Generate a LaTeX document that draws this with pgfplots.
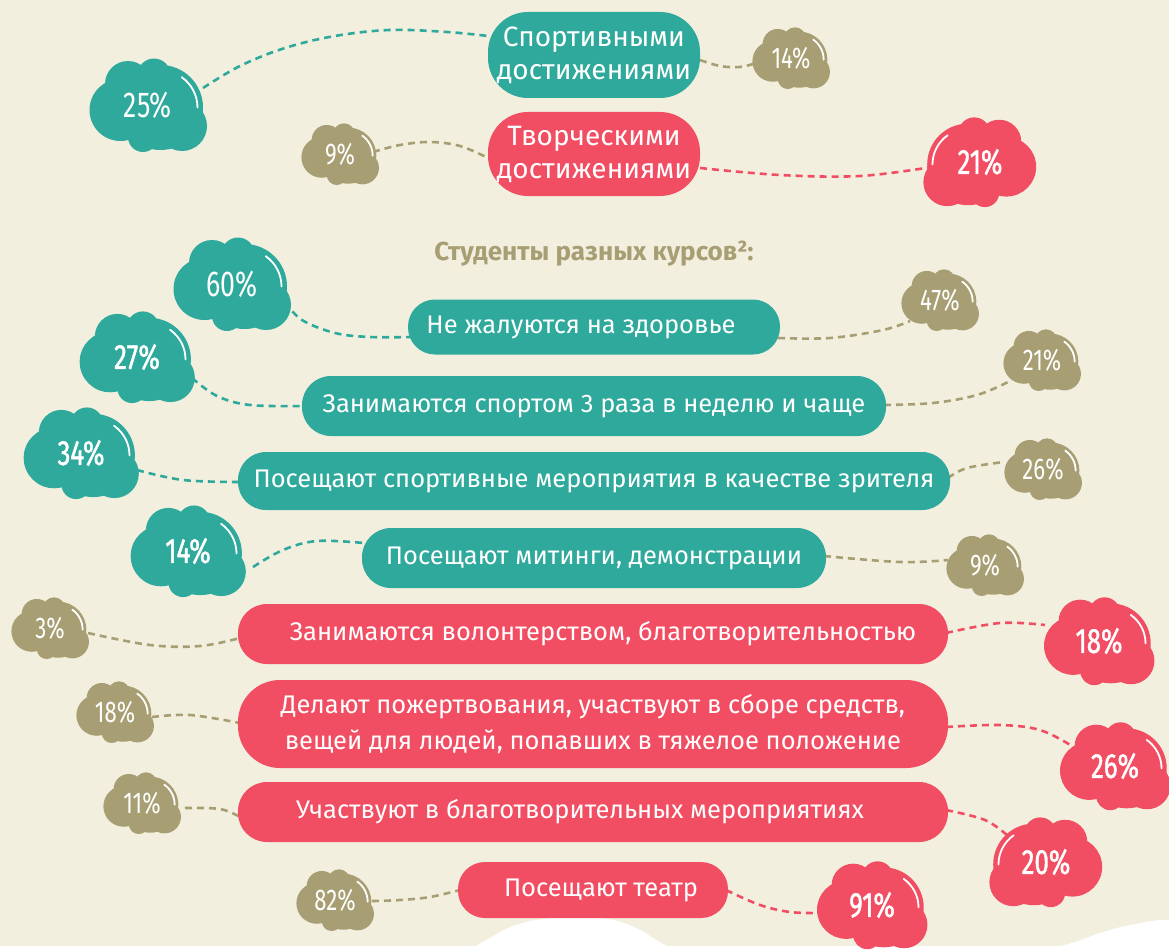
\documentclass[border=0pt]{standalone}
\usepackage{fontspec}
\setmainfont{Fira Sans}
\newfontfamily\pctfont[FakeStretch=0.74]{Fira Sans}
\newfontfamily\pctbold[FakeStretch=0.74,FakeBold=1.2]{Fira Sans}
\usepackage{pgfplots}
\pgfplotsset{compat=1.18}
\definecolor{tealc}{HTML}{2EA99B}
\definecolor{redc}{HTML}{F24E63}
\definecolor{olivec}{HTML}{A89E73}
\definecolor{bgc}{HTML}{F3EFDF}

% cloud-shaped plot mark; #1 = 1 (bumps left) or -1 (mirrored); #2,#3 highlight arc angles
\newcommand\cloudmark[3]{%
  \pgfpathcircle{\pgfpoint{#1*0.25*\pgfplotmarksize}{-0.05*\pgfplotmarksize}}{0.85\pgfplotmarksize}%
  \pgfpathcircle{\pgfpoint{#1*(-0.55)*\pgfplotmarksize}{-0.1*\pgfplotmarksize}}{0.62\pgfplotmarksize}%
  \pgfpathcircle{\pgfpoint{#1*(-0.4)*\pgfplotmarksize}{0.42*\pgfplotmarksize}}{0.46\pgfplotmarksize}%
  \pgfpathcircle{\pgfpoint{#1*0.12*\pgfplotmarksize}{0.6*\pgfplotmarksize}}{0.33\pgfplotmarksize}%
  \pgfpathcircle{\pgfpoint{#1*(-0.1)*\pgfplotmarksize}{-0.64*\pgfplotmarksize}}{0.3\pgfplotmarksize}%
  \pgfpathcircle{\pgfpoint{#1*0.68*\pgfplotmarksize}{-0.42*\pgfplotmarksize}}{0.5\pgfplotmarksize}%
  \pgfusepathqfill
  \begin{pgfscope}
    \pgfsetstrokecolor{white}\pgfsetlinewidth{1.8bp}\pgfsetroundcap
    \pgfpathmoveto{\pgfpointadd{\pgfpoint{#1*0.25*\pgfplotmarksize}{-0.05*\pgfplotmarksize}}{\pgfpointpolar{#2}{0.74\pgfplotmarksize}}}%
    \pgfpatharc{#2}{#3}{0.74\pgfplotmarksize}%
    \pgfusepathqstroke
  \end{pgfscope}%
}
\pgfdeclareplotmark{cloudL}{\cloudmark{1}{0}{55}}
\pgfdeclareplotmark{cloudR}{\cloudmark{-1}{180}{125}}

\pgfplotsset{
  conn/.style={smooth, tension=0.6, line width=2.6bp, dash pattern=on 7bp off 5bp, #1, mark=none},
  pill/.style n args={5}{only marks, mark=none, nodes near coords, point meta=explicit symbolic,
    every node near coord/.style={anchor=center, fill=#1, draw=none, text=white,
      minimum width=#2, minimum height=#3, rounded corners=#4, align=center,
      inner sep=0pt, font=#5}},
  cloud/.style n args={4}{only marks, mark=#1, color=#2, mark size=#3,
    nodes near coords, point meta=explicit symbolic,
    every node near coord/.style={anchor=center, text=white, font=#4}},
}
\newcommand\pf{\fontsize{25.5bp}{34bp}\selectfont}

\begin{document}
\begin{tikzpicture}
\begin{axis}[
  scale only axis, width=1169bp, height=949bp,
  xmin=0, xmax=1169, ymin=0, ymax=949, y dir=reverse,
  axis lines=none, clip=false,
]
% background
\addplot[fill=bgc, draw=none] coordinates {(0,0) (1169,0) (1169,949) (0,949)};
% white ground at the bottom
\addplot[fill=white, draw=none, smooth, tension=0.5] coordinates {
  (470,949) (490,938) (508,928) (530,921) (560,917) (590,917) (618,921) (640,930) (658,941) (672,949)};
\addplot[fill=white, draw=none] coordinates {(0,949) (0,946) (1169,946) (1169,949)};
\addplot[fill=white, draw=none, smooth, tension=0.5] coordinates {
  (1050,949) (1075,942) (1100,933) (1130,925) (1169,921) (1169,949)};

% dashed connectors
\addplot[conn=tealc]  coordinates {(203,88) (240,66) (285,48) (335,36) (390,30) (447,32) (488,36)};
\addplot[conn=olivec] coordinates {(700,60) (720,66) (740,67) (756,63)};
\addplot[conn=olivec] coordinates {(373,152) (400,145) (430,142) (460,146) (488,158)};
\addplot[conn=redc]   coordinates {(700,168) (780,175) (860,176) (932,167)};
\addplot[conn=tealc]  coordinates {(285,302) (302,320) (335,333) (370,337) (410,337)};
\addplot[conn=olivec] coordinates {(778,338) (830,338) (883,330) (910,321)};
\addplot[conn=tealc]  coordinates {(192,378) (217,396) (250,405) (304,406)};
\addplot[conn=olivec] coordinates {(884,405) (933,403) (977,395) (1008,382)};
\addplot[conn=tealc]  coordinates {(137,470) (183,480) (240,482)};
\addplot[conn=olivec] coordinates {(948,478) (967,468) (1004,462)};
\addplot[conn=tealc]  coordinates {(253,567) (283,550) (317,541) (364,543)};
\addplot[conn=olivec] coordinates {(824,556) (900,562) (948,560)};
\addplot[conn=olivec] coordinates {(88,633) (150,645) (200,646) (240,638)};
\addplot[conn=redc]   coordinates {(946,633) (1000,623) (1045,625)};
\addplot[conn=olivec] coordinates {(152,717) (190,715) (240,723)};
\addplot[conn=redc]   coordinates {(946,727) (1000,725) (1040,730) (1072,746)};
\addplot[conn=olivec] coordinates {(185,808) (220,809) (240,817)};
\addplot[conn=redc]   coordinates {(946,810) (985,820) (1008,836)};
\addplot[conn=olivec] coordinates {(372,901) (400,900) (430,897) (460,890)};
\addplot[conn=redc]   coordinates {(726,890) (760,905) (790,912) (818,913)};

% pills
\addplot[pill={tealc}{212bp}{86bp}{40bp}{\fontsize{28bp}{33bp}\selectfont}] coordinates {(594,55) [{Спортивными\\достижениями}]};
\addplot[pill={redc}{212bp}{84bp}{40bp}{\fontsize{28bp}{33bp}\selectfont}] coordinates {(594,154) [{Творческими\\достижениями}]};
\addplot[pill={tealc}{372bp}{55bp}{27bp}{\pf}] coordinates {(594,327) [{Не жалуются на здоровье\hspace*{26bp}}]};
\addplot[pill={tealc}{584bp}{60bp}{29bp}{\pf}] coordinates {(594,406) [{Занимаются спортом 3 раза в неделю и чаще}]};
\addplot[pill={tealc}{712bp}{58bp}{28bp}{\pf}] coordinates {(594,481) [{Посещают спортивные мероприятия в качестве зрителя}]};
\addplot[pill={tealc}{464bp}{60bp}{29bp}{\pf}] coordinates {(594,558) [{Посещают митинги, демонстрации}]};
\addplot[pill={redc}{710bp}{60bp}{29bp}{\pf}] coordinates {(593,634) [{\hspace*{20bp}Занимаются волонтерством, благотворительностью}]};
\addplot[pill={redc}{710bp}{88bp}{42bp}{\fontsize{25.5bp}{36bp}\selectfont}] coordinates {(593,724) [{Делают пожертвования, участвуют в сборе средств,\\вещей для людей, попавших в тяжелое положение}]};
\addplot[pill={redc}{710bp}{60bp}{29bp}{\pf}] coordinates {(593,812) [{Участвуют в благотворительных мероприятиях\hspace*{26bp}}]};
\addplot[pill={redc}{270bp}{56bp}{27bp}{\pf}] coordinates {(593,890) [{\hspace*{16bp}Посещают театр}]};

% clouds
\addplot[cloud={cloudL}{tealc}{50bp}{\pctfont\fontsize{36bp}{36bp}\selectfont}] coordinates {
  (148,105) [25\%] (232,284) [60\%]};
\addplot[cloud={cloudL}{tealc}{49bp}{\pctbold\fontsize{35bp}{35bp}\selectfont}] coordinates {
  (137,357) [27\%] (81,453) [34\%] (188,551) [14\%]};
\addplot[cloud={cloudR}{redc}{48bp}{\pctbold\fontsize{35bp}{35bp}\selectfont}] coordinates {
  (980,162) [21\%] (1046,862) [20\%]};
\addplot[cloud={cloudL}{redc}{47bp}{\pctbold\fontsize{35bp}{35bp}\selectfont}] coordinates {
  (1099,641) [18\%] (1115,766) [26\%] (872,905) [91\%]};
\addplot[cloud={cloudL}{olivec}{33bp}{\pctfont\fontsize{30bp}{30bp}\selectfont}] coordinates {
  (791,58) [14\%] (340,154) [9\%] (940,300) [47\%] (1042,360) [21\%] (1043,469) [26\%]
  (985,565) [9\%] (50,628) [3\%] (115,712) [18\%] (142,803) [11\%] (335,900) [82\%]};

% heading
\node[font=\bfseries\fontsize{26bp}{30bp}\selectfont, text=olivec] at (axis cs:594,254) {Студенты разных курсов²:};
\end{axis}
\pgfresetboundingbox
\path[use as bounding box] (current axis.south west) rectangle (current axis.north east);
\end{tikzpicture}
\end{document}
